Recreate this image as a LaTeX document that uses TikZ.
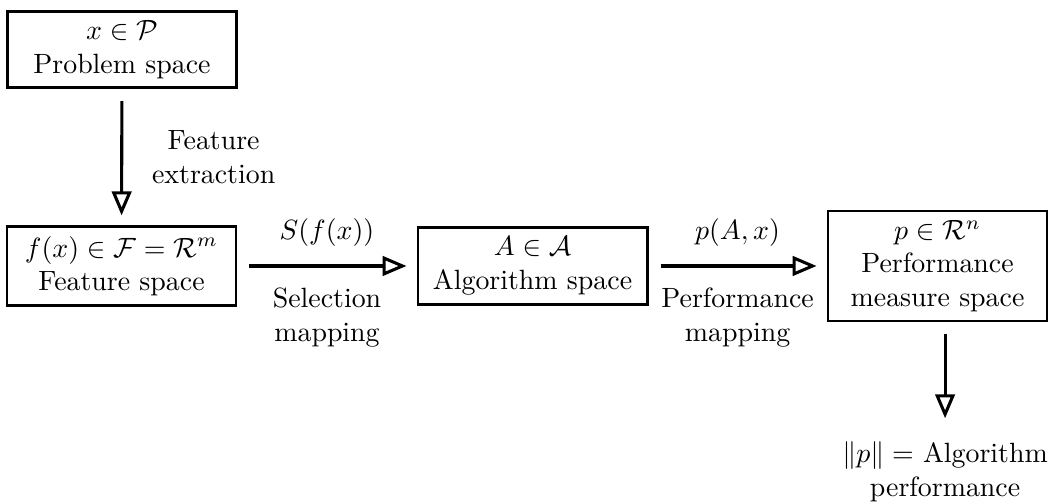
\documentclass[tikz,border=0pt]{standalone}
\usepackage{amsmath}
\usepackage{amssymb}
\usepackage{tikz}
\usetikzlibrary{arrows.meta,positioning}

\begin{document}
\begin{tikzpicture}[
    space/.style={draw, line width=1pt, align=center, minimum width=2.89cm},
    mapping/.style={line width=1.1pt, -{Triangle[open, length=8.6pt, width=7pt]}, shorten <=4.3pt, shorten >=3.6pt},
    lbl/.style={align=center}
    ]
    \useasboundingbox (0,0) rectangle (13.24,-6.33);

    \node[space] (prob) at (1.538,-0.624) {$x \in \mathcal{P}$\\ Problem space};
    \node[space] (feat) at (1.532,-3.354) {$f(x) \in \mathcal{F} = \mathcal{R}^m$\\ Feature space};
    \node[space] (alg)  at (6.715,-3.354) {$A \in \mathcal{A}$\\ Algorithm space};
    \node[space, minimum width=2.762cm] (perf) at (11.822,-3.354) {$p \in \mathcal{R}^n$\\ Performance\\ measure space};
    \node[lbl, anchor=north] (out) at (11.917,-5.45) {$\|p\| =$ Algorithm\\ performance};

    \draw[mapping] (prob) -- node[lbl, right=7pt] {Feature\\ extraction} (feat);
    \draw[mapping] (feat) -- node[above=3pt] {$S(f(x))$} node[lbl, below=4pt] {Selection\\ mapping} (alg);
    \draw[mapping] (alg) -- node[above=3pt] {$p(A,x)$} node[lbl, below=4pt] {Performance\\ mapping} (perf);
    \draw[mapping] (out.north |- perf.south) -- ([yshift=1.4pt]out.north);
    %\draw[mapping] (perf) -- (out);

\end{tikzpicture}
\end{document}
